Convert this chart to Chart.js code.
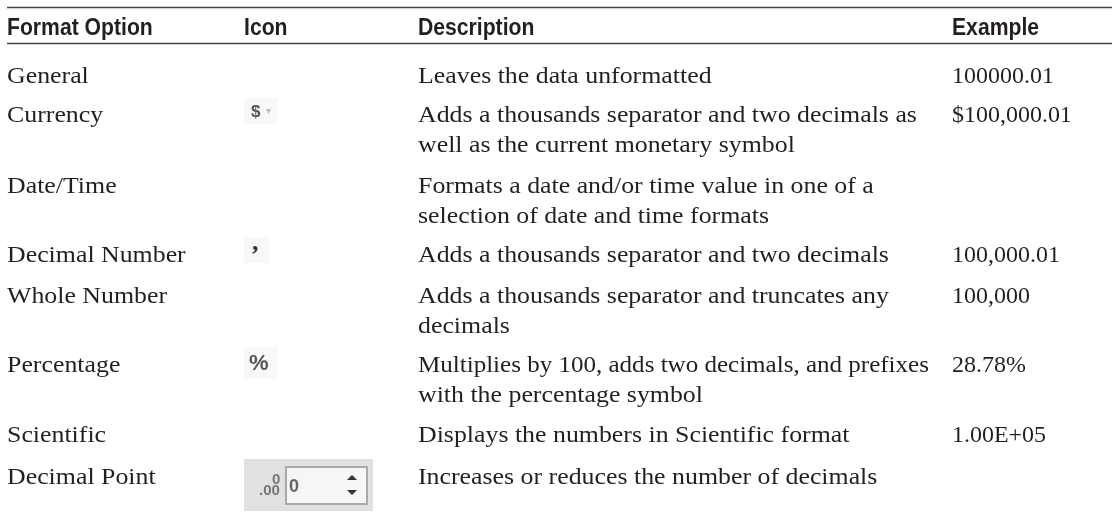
<!DOCTYPE html>
<html><head><meta charset="utf-8">
<style>html,body{margin:0;padding:0;background:#fff}canvas{display:block}</style>
<script src="https://cdn.jsdelivr.net/npm/chart.js@4"></script></head>
<body><div style="width:1112px;height:522px"><canvas id="c" width="1112" height="522"></canvas></div>
<script>
const headers = ["Format Option","Icon","Description","Example"];
const formatOptions = ["General","Currency","Date/Time","Decimal Number","Whole Number","Percentage","Scientific","Decimal Point"];
const descriptions = [
 ["Leaves the data unformatted"],
 ["Adds a thousands separator and two decimals as","well as the current monetary symbol"],
 ["Formats a date and/or time value in one of a","selection of date and time formats"],
 ["Adds a thousands separator and two decimals"],
 ["Adds a thousands separator and truncates any","decimals"],
 ["Multiplies by 100, adds two decimals, and prefixes","with the percentage symbol"],
 ["Displays the numbers in Scientific format"],
 ["Increases or reduces the number of decimals"]];
const examples = ["100000.01","$100,000.01","","100,000.01","100,000","28.78%","1.00E+05",""];
const colX = [7,244,418,952];
const rowBaseline = [83,122,193,262,303,372,442,484];
const lineGap = 29.5, headBaseline = 35, ruleY = [7.5,43.5], ruleX = [7,1112];
const bodyFont = '23.5px "Liberation Serif"', bodyStretch = 1.10, exampleStretch = 1.02, longLineStretch = 1.065;
const ink = '#231f20';
function text(c,t,x,y,s){c.save();c.translate(x,y);c.scale(s||1,1);c.fillText(t,0,0);c.restore();}
const tablePlugin = {id:'table',afterDraw(ch){
 const c=ch.ctx,X=ch.scales.x,Y=ch.scales.y,px=v=>X.getPixelForValue(v),py=v=>Y.getPixelForValue(v);
 c.save();
 c.textBaseline='alphabetic';c.fillStyle=ink;
 c.font='bold 23px "Liberation Sans"';
 headers.forEach((h,i)=>text(c,h,px(colX[i]),py(headBaseline),0.92));
 c.font=bodyFont;
 formatOptions.forEach((t,r)=>{
  const y=py(rowBaseline[r]);
  text(c,t,px(colX[0]),y,bodyStretch);
  descriptions[r].forEach((l,j)=>text(c,l,px(colX[2]),y+j*lineGap,l.length>=50?longLineStretch:bodyStretch));
  if(examples[r])text(c,examples[r],px(colX[3]),y,exampleStretch);
 });
 // toolbar icons
 const box=(x,y,w,h,f)=>{c.fillStyle=f;c.fillRect(px(x),py(y),w,h);};
 box(244,98,33,26,'#f8f8f8');
 box(244,237,25,26,'#f8f8f8');
 box(244,347,33,32,'#f8f8f8');
 box(244,459,129,52,'#e1e1e1');
 c.fillStyle='#f6f6f6';c.strokeStyle='#aaaaaa';c.lineWidth=2;
 c.fillRect(px(286),py(467),81,37);c.strokeRect(px(286),py(467),81,37);
 c.filter='blur(0.5px)';
 c.font='bold 17px "Liberation Sans"';c.fillStyle='#555';c.fillText('$',px(251),py(117));
 c.fillStyle='#bbb';c.font='10px "Liberation Sans"';c.fillText('\u25BE',px(266),py(114));
 c.fillStyle='#333';c.font='bold 26px "Liberation Serif"';c.fillText(',',px(252),py(250));
 c.fillStyle='#555';c.font='bold 22px "Liberation Sans"';c.fillText('%',px(249),py(370));
 c.fillStyle='#777';c.font='bold 15px "Liberation Sans"';
 c.fillText('.00',px(259),py(495));c.fillText('0',px(272),py(484));
 c.fillStyle='#666';c.font='bold 18px "Liberation Sans"';c.fillText('0',px(289),py(492));
 c.fillStyle='#333';
 const tri=(x,y,d)=>{c.beginPath();c.moveTo(px(x)-5,py(y));c.lineTo(px(x)+5,py(y));c.lineTo(px(x),py(y)-d);c.closePath();c.fill();};
 tri(352,480,5);tri(352,490,-5);
 c.restore();
}};
new Chart(document.getElementById('c'),{type:'scatter',
 data:{datasets:ruleY.map(y=>({data:ruleX.map(x=>({x,y})),showLine:true,borderColor:'#444444',borderWidth:1.5,pointRadius:0}))},
 options:{responsive:false,animation:false,layout:{padding:0},plugins:{legend:{display:false},tooltip:{enabled:false}},
  scales:{x:{type:'linear',display:false,min:0,max:1112},y:{type:'linear',display:false,min:0,max:522,reverse:true}}},
 plugins:[tablePlugin]});
</script></body></html>
